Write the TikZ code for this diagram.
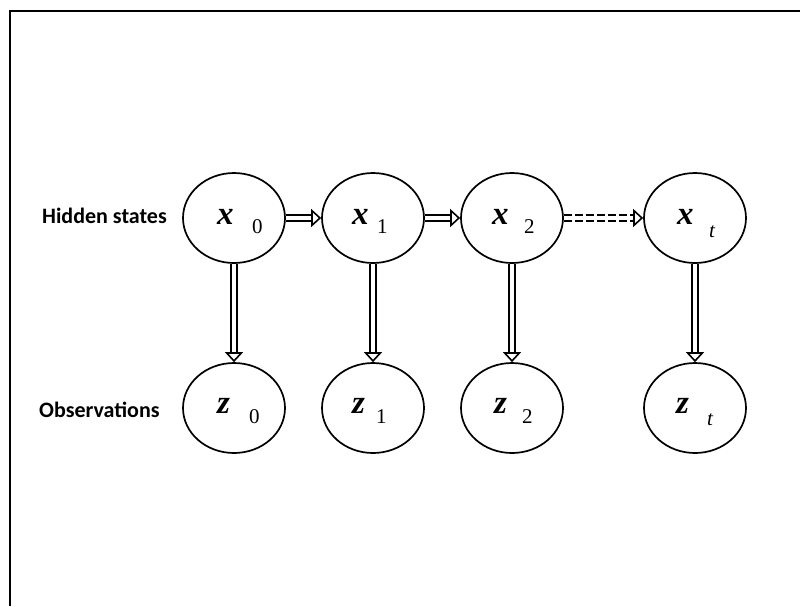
\documentclass[tikz,border=0pt]{standalone}
\usepackage{fontspec}
\setmainfont{Liberation Serif}
\newfontfamily\captionfont{Carlito}
\usetikzlibrary{arrows.meta,shapes.geometric}
\begin{document}
\begin{tikzpicture}[x=1pt,y=-1pt,
  state/.style={draw, line width=1.7pt, ellipse, minimum width=102pt, minimum height=90pt, inner sep=0pt},
  var/.style={anchor=base west, inner sep=0pt, font=\fontsize{33}{33}\selectfont\bfseries\itshape},
  idx/.style={anchor=base west, inner sep=0pt, font=\fontsize{21}{21}\selectfont},
  rowname/.style={anchor=base west, inner sep=0pt, font=\captionfont\bfseries\fontsize{22}{22}\selectfont},
  link/.style={double, double distance=4.5pt, line width=1.6pt,
    -{Triangle[open, width=18pt, length=10pt, line width=1.6pt]}},
  pending/.style={link, dashed, dash pattern=on 8pt off 3pt}]
  \useasboundingbox (0,0) rectangle (800,606);
  % frame
  \draw[line width=2.2pt] (10,606) -- (10,11) -- (800,11);

  % hidden states
  \node[state] (x0) at (234,218) {};
  \node[state] (x1) at (373,218) {};
  \node[state] (x2) at (512,218) {};
  \node[state] (xt) at (695,218) {};
  % observations
  \node[state] (z0) at (234,408) {};
  \node[state] (z1) at (373,408) {};
  \node[state] (z2) at (512,408) {};
  \node[state] (zt) at (695,408) {};

  % variable names with their indices
  \node[var] (x0v) at (217,224) {x};  \node[idx] (x0i) at (252,233) {0};
  \node[var] (x1v) at (352,224) {x};  \node[idx] (x1i) at (377,233) {1};
  \node[var] (x2v) at (492,224) {x};  \node[idx] (x2i) at (524,233) {2};
  \node[var] (xtv) at (677,224) {x};  \node[idx] (xti) at (709,237) {\itshape t};
  \node[var] (z0v) at (217,413) {z};  \node[idx] (z0i) at (249,423) {0};
  \node[var] (z1v) at (352,413) {z};  \node[idx] (z1i) at (376,423) {1};
  \node[var] (z2v) at (494,413) {z};  \node[idx] (z2i) at (522,423) {2};
  \node[var] (ztv) at (676,413) {z};  \node[idx] (zti) at (707,425) {\itshape t};

  % row captions
  \node[rowname] (hid) at (42,223) {Hidden states};
  \node[rowname] (obs) at (39,417) {Observations};

  % transitions
  \draw[link] (x0) -- (x1);
  \draw[link] (x1) -- (x2);
  \draw[pending] (x2) -- (xt);
  % emissions
  \draw[link] (x0) -- (z0);
  \draw[link] (x1) -- (z1);
  \draw[link] (x2) -- (z2);
  \draw[link] (xt) -- (zt);
\end{tikzpicture}
\end{document}
